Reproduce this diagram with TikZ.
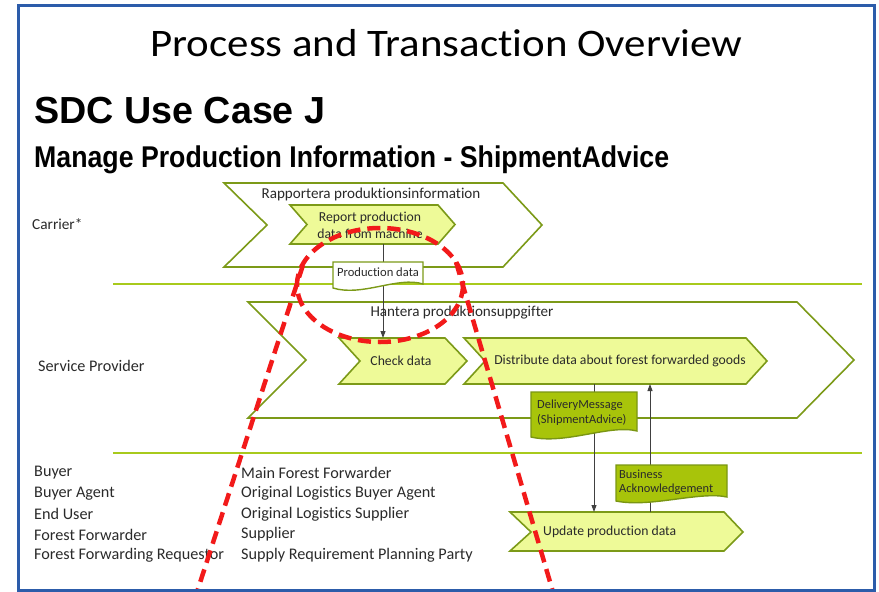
\documentclass[tikz,border=0pt]{standalone}
\usepackage{fontspec}
\setmainfont{Carlito}[Ligatures=NoCommon]
\newfontfamily\titlefont[FakeStretch=1.1,Ligatures=NoCommon]{Carlito}
\newfontfamily\headfont{Liberation Sans}
\newfontfamily\narrowfont[FakeStretch=0.89]{Liberation Sans}
\usetikzlibrary{arrows.meta}
\definecolor{laneline}{HTML}{A8CA1C}
\definecolor{chevline}{HTML}{7C9A18}
\definecolor{chevfill}{HTML}{EEFA98}
\definecolor{docfill}{HTML}{A8C40A}
\definecolor{docline}{HTML}{7A9612}
\definecolor{connline}{HTML}{404040}
\definecolor{textgray}{HTML}{2A2A2A}
\definecolor{framblue}{HTML}{2C5CAA}
\definecolor{markred}{HTML}{F21A1A}

\begin{document}
\begin{tikzpicture}[x=1pt,y=-1pt,
    lane/.style={laneline,line width=2pt},
    bigchev/.style={draw=chevline,line width=1.6pt,fill=white,line join=miter},
    chev/.style={draw=chevline,line width=1.6pt,fill=chevfill},
    docpale/.style={draw=chevline,line width=1.4pt,fill=white},
    docdark/.style={draw=docline,line width=1.4pt,fill=docfill},
    conn/.style={connline,line width=0.9pt},
    arr/.style={conn,-{Triangle[length=7pt,width=5pt]}},
    lbl/.style={inner sep=0pt,text=textgray,font=\fontsize{13.7}{17}\selectfont},
    role/.style={inner sep=0pt,anchor=west,text=textgray,font=\fontsize{16.2}{19}\selectfont},
    redmark/.style={markred,line width=4.5pt,dash pattern=on 13pt off 7pt}]
\useasboundingbox (0,0) rectangle (879,592);

% headings
\node[anchor=base,inner sep=0pt,font=\titlefont\fontsize{39}{42}\selectfont] (title) at (446.5,56) {Process and Transaction Overview};
\node[anchor=base west,inner sep=0pt,font=\headfont\bfseries\fontsize{37.7}{40}\selectfont] (usecase) at (34,123) {SDC Use Case J};
\node[anchor=base west,inner sep=0pt,font=\narrowfont\bfseries\fontsize{30}{34}\selectfont] (subtitle) at (34,167) {Manage Production Information - ShipmentAdvice};

% swim lanes
\draw[lane] (113,284) -- (862,284);
\draw[lane] (113,453) -- (862,453);
\node[role,font=\fontsize{15.3}{18}\selectfont] (carrier) at (32,224) {Carrier*};
\node[role,font=\fontsize{16.2}{19}\selectfont] (provider) at (38,366) {Service Provider};

% processes
\draw[bigchev] (224,183)--(503,183)--(542,225)--(503,267)--(224,267)--(267,225)--cycle;
\draw[chev] (290,205)--(438,205)--(455,224.5)--(438,244)--(290,244)--(307,224.5)--cycle;
\draw[bigchev] (248,302)--(797,302)--(854,360)--(797,418)--(248,418)--(306,360)--cycle;
\draw[chev] (339,338)--(445,338)--(467,361)--(445,384)--(339,384)--(360,361)--cycle;
\draw[chev] (464,338)--(746,338)--(767,361)--(746,384)--(464,384)--(485,361)--cycle;
\draw[chev] (510,512)--(724,512)--(743,532)--(724,551)--(510,551)--(531,532)--cycle;

\coordinate (report-out) at (383,244);
\coordinate (check-in) at (383,338);
\coordinate (distr-out) at (594,384);
\coordinate (update-in) at (594,512);
\coordinate (update-out) at (650,512);
\coordinate (distr-in) at (650,384);

% messages
\draw[arr] (report-out) -- (check-in);
\draw[arr] (distr-out) -- (update-in);
\draw[arr] (update-out) -- (distr-in);

\draw[docpale] (333,262) -- (423,262) -- (423,284) .. controls (398,276) and (362,297) .. (333,288) -- cycle;
\draw[docdark] (531,392) -- (637,392) -- (637,431) .. controls (610,424) and (565,445) .. (531,437) -- cycle;
\draw[docdark] (616,465) -- (727,465) -- (727,497) .. controls (700,491) and (650,508) .. (616,501) -- cycle;

\node[lbl,font=\fontsize{15.1}{18}\selectfont] (rapp) at (371,194) {Rapportera produktionsinformation};
\node[lbl,align=center,font=\fontsize{13.7}{17}\selectfont] (report) at (370,225) {Report production\\data from machine};
\node[lbl,font=\fontsize{12.6}{15}\selectfont] (proddata) at (378,272) {Production data};
\node[lbl,font=\fontsize{15.1}{18}\selectfont] (hant) at (462,313) {Hantera produktionsuppgifter};
\node[lbl] (check) at (401,361) {Check data};
\node[lbl] (distr) at (620,361) {Distribute data about forest forwarded goods};
\node[lbl,align=left,anchor=west,font=\fontsize{12.4}{15}\selectfont] (delmsg) at (537,412.5) {DeliveryMessage\\(ShipmentAdvice)};
\node[lbl,align=left,anchor=west,font=\fontsize{12.4}{14}\selectfont] (ack) at (619,482) {Business\\Acknowledgement};
\node[lbl,anchor=west] (update) at (543,532) {Update production data};

% roles
\foreach \r [count=\i] in {Buyer,Buyer Agent,End User,Forest Forwarder,Forest Forwarding Requestor}
  \node[role] (roleA\i) at (34,{473+20.5*(\i-1)}) {\r};
\foreach \r [count=\i] in {Main Forest Forwarder,Original Logistics Buyer Agent,Original Logistics Supplier,Supplier,Supply Requirement Planning Party}
  \node[role] (roleB\i) at (241,{473+20.5*(\i-1)}) {\r};

% red markup
\draw[redmark] (380,285) ellipse [x radius=83,y radius=57];
\draw[redmark] (303,265) -- (197,592);
\draw[redmark] (456,262) -- (553,592);

% frame
\draw[framblue,line width=3pt] (18,5) rectangle (874,590);
\end{tikzpicture}
\end{document}
